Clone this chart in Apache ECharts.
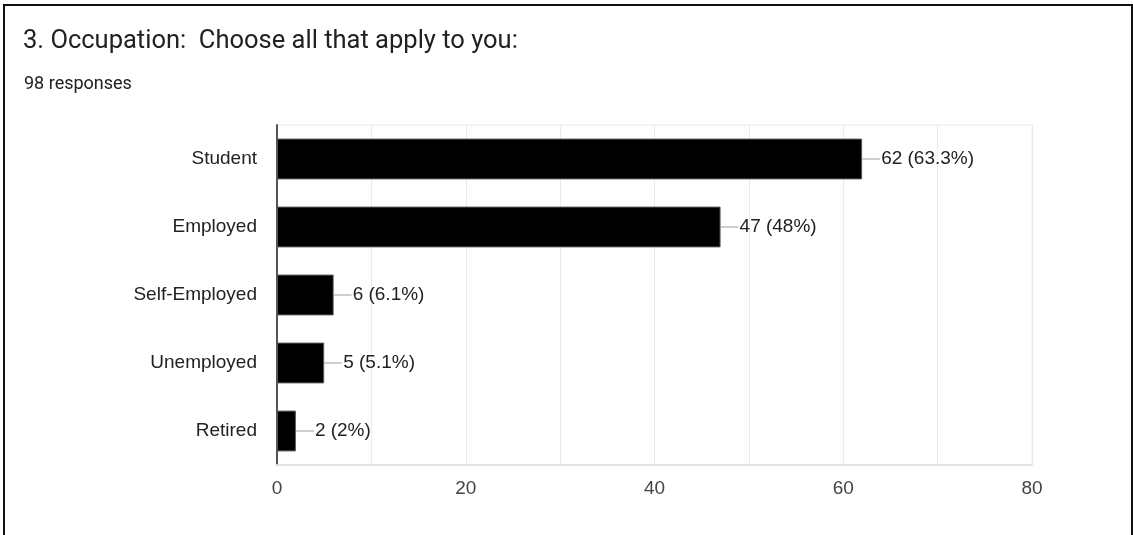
<!DOCTYPE html>
<html>
<head>
<meta charset="utf-8">
<script src="https://cdn.jsdelivr.net/npm/echarts@6/dist/echarts.min.js"></script>
<style>
  html, body { margin: 0; padding: 0; background: #fff; }
  #frame {
    position: absolute; left: 3px; top: 4px; width: 1126px; height: 540px;
    border: 2px solid #111; border-bottom: none;
  }
  #chart { position: absolute; left: 0; top: 0; width: 1133px; height: 535px; }
</style>
</head>
<body>
<div id="frame"></div>
<div id="chart"></div>
<script>
var categories = ['Student', 'Employed', 'Self-Employed', 'Unemployed', 'Retired'];
var counts = [62, 47, 6, 5, 2];
var percents = ['63.3%', '48%', '6.1%', '5.1%', '2%'];
var xTicks = [0, 20, 40, 60, 80];

var chart = echarts.init(document.getElementById('chart'));
var option = {
    animation : false,
    textStyle : {
        fontFamily : '"Liberation Sans", Arial, sans-serif'
    },
    title : [ {
        text : '3. Occupation:  Choose all that apply to you:',
        left : 18,
        top : 24,
        textStyle : {
            fontFamily : 'Roboto, sans-serif',
            fontSize : 25.5,
            fontWeight : 'normal',
            color : '#202124'
        }
    }, {
        text : '98 responses',
        left : 19,
        top : 70,
        textStyle : {
            fontFamily : 'Roboto, sans-serif',
            fontSize : 18,
            fontWeight : 'normal',
            color : '#202124'
        }
    } ],
    grid : {
        left : 277,
        right : 101,
        top : 125,
        bottom : 70,
        show : true,
        borderColor : '#ebebeb',
        borderWidth : 1
    },
    xAxis : {
        type : 'value',
        min : 0,
        max : 80,
        interval : 10,
        axisLine : { show : true, lineStyle : { color : '#e3e3e3', width : 2 } },
        axisTick : { show : false },
        splitLine : { lineStyle : { color : '#ebebeb', width : 1 } },
        axisLabel : {
            margin : 14,
            fontSize : 19,
            color : '#444',
            formatter : function(v) {
                return xTicks.indexOf(v) >= 0 ? String(v) : '';
            }
        }
    },
    yAxis : {
        type : 'category',
        inverse : true,
        data : categories,
        axisLine : { show : true, lineStyle : { color : '#555', width : 2 } },
        axisTick : { show : false },
        axisLabel : {
            margin : 20,
            fontSize : 19,
            color : '#222'
        }
    },
    series : [ {
        type : 'bar',
        data : counts,
        barWidth : '60%',
        itemStyle : {
            color : '#000',
            borderColor : '#555',
            borderWidth : 1
        },
        label : {
            show : true,
            position : 'right',
            distance : 0,
            formatter : function(p) {
                return '{l| }{t|' + counts[p.dataIndex] + ' (' + percents[p.dataIndex] + ')}';
            },
            rich : {
                l : {
                    width : 18,
                    height : 1,
                    backgroundColor : '#9e9e9e',
                    verticalAlign : 'middle'
                },
                t : {
                    fontSize : 19,
                    color : '#222',
                    padding : [ 0, 0, 0, 1 ],
                    verticalAlign : 'middle'
                }
            }
        }
    } ]
};
chart.setOption(option);
</script>
</body>
</html>
